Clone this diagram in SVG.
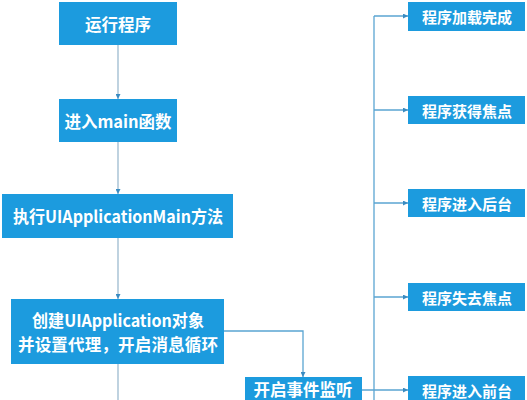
<svg xmlns="http://www.w3.org/2000/svg" width="527" height="400" viewBox="0 0 527 400">
<style>
.box{fill:#1C9BDE}
.t{fill:#fff;font-family:"Noto Sans CJK SC","Noto Sans",sans-serif;font-weight:bold;font-size:16.5px;text-anchor:middle;dominant-baseline:central}
.s{font-size:15px}
.ln{fill:none;stroke:#5AA5D2;stroke-width:1.3}
.gl{fill:none;stroke:#9DBBD0;stroke-width:1.3}
</style>
<defs>
<marker id="ar" viewBox="0 0 10 10" refX="10" refY="5" markerWidth="5" markerHeight="5" markerUnits="userSpaceOnUse" orient="auto">
<path d="M0,0L10,5L0,10z" fill="#3A8CC2"/>
</marker>
</defs>
<rect width="527" height="400" fill="#fff"/>
<g id="connectors">
<line class="gl" x1="118" y1="45" x2="118" y2="99" marker-end="url(#ar)"/>
<line class="gl" x1="118" y1="142" x2="118" y2="194" marker-end="url(#ar)"/>
<line class="gl" x1="118" y1="238" x2="118" y2="299" marker-end="url(#ar)"/>
<line class="gl" x1="118" y1="364" x2="118" y2="400"/>
<polyline class="ln" points="224,331 303,331 303,377" marker-end="url(#ar)"/>
<line class="ln" x1="374" y1="16" x2="374" y2="400"/>
<line class="ln" x1="374" y1="16" x2="408" y2="16" marker-end="url(#ar)"/>
<line class="ln" x1="374" y1="110" x2="408" y2="110" marker-end="url(#ar)"/>
<line class="ln" x1="374" y1="203" x2="408" y2="203" marker-end="url(#ar)"/>
<line class="ln" x1="374" y1="297" x2="408" y2="297" marker-end="url(#ar)"/>
<line class="ln" x1="362" y1="390" x2="408" y2="390" marker-end="url(#ar)"/>
</g>
<g id="n1"><rect class="box" x="59" y="2" width="118" height="43"/><text class="t" x="118" y="24">运行程序</text></g>
<g id="n2"><rect class="box" x="59" y="99" width="118" height="43"/><text class="t" x="118" y="121">进入main函数</text></g>
<g id="n3"><rect class="box" x="2" y="194" width="231" height="44"/><text class="t" x="118" y="216" textLength="210" lengthAdjust="spacingAndGlyphs">执行UIApplicationMain方法</text></g>
<g id="n4"><rect class="box" x="11" y="299" width="213" height="65"/><text class="t" x="118" y="320" textLength="172" lengthAdjust="spacingAndGlyphs">创建UIApplication对象</text><text class="t" x="118" y="344" textLength="200" lengthAdjust="spacing">并设置代理，开启消息循环</text></g>
<g id="n5"><rect class="box" x="245" y="377" width="117" height="30"/><text class="t" x="303" y="389">开启事件监听</text></g>
<g id="r1"><rect class="box" x="408" y="2" width="117" height="29"/><text class="t s" x="467" y="16">程序加载完成</text></g>
<g id="r2"><rect class="box" x="408" y="96" width="117" height="28"/><text class="t s" x="467" y="110">程序获得焦点</text></g>
<g id="r3"><rect class="box" x="408" y="189" width="117" height="28"/><text class="t s" x="467" y="203">程序进入后台</text></g>
<g id="r4"><rect class="box" x="408" y="283" width="117" height="28"/><text class="t s" x="467" y="297">程序失去焦点</text></g>
<g id="r5"><rect class="box" x="408" y="376" width="117" height="30"/><text class="t s" x="467" y="390">程序进入前台</text></g>
</svg>
